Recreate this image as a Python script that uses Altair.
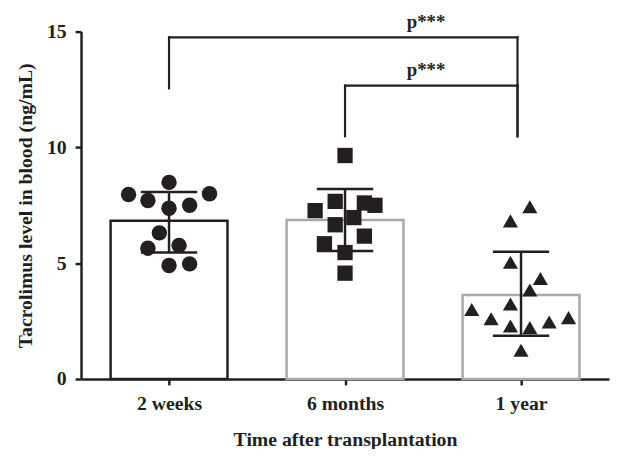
import altair as alt
import pandas as pd

# ---- data ----
groups = ["2 weeks", "6 months", "1 year"]
means = [6.83, 6.87, 3.63]
sd_hi = [8.07, 8.20, 5.49]
sd_lo = [5.46, 5.53, 1.87]

weeks2_vals = [8.49, 7.97, 8.00, 7.71, 7.37, 7.50, 6.31, 5.65, 5.77, 4.90, 4.97]
weeks2_jit = [0.0, -0.23, 0.23, -0.12, 0.0, 0.117, -0.055, -0.12, 0.057, 0.0, 0.117]
months6_vals = [9.65, 7.67, 7.27, 7.60, 7.50, 6.97, 6.66, 6.17, 5.84, 5.46, 4.57]
months6_jit = [0.0, -0.056, -0.17, 0.11, 0.17, 0.05, -0.056, 0.11, -0.117, 0.0, 0.0]
year1_vals = [7.44, 6.83, 5.04, 4.34, 3.84, 3.24, 3.00, 2.60, 2.29, 2.22, 2.46, 2.65, 1.24]
year1_jit = [0.05, -0.06, -0.06, 0.11, 0.05, -0.06, -0.28, -0.17, -0.06, 0.05, 0.16, 0.27, 0.0]

br_from = ["2 weeks", "6 months"]
br_to = ["1 year", "1 year"]
br_top = [14.75, 12.67]
br_left_bottom = [12.55, 10.48]
br_right_bottom = [10.48, 10.48]
br_label = ["p***", "p***"]

DARK = "#231f20"
GRAY = "#a7a9ac"
FONT = "Liberation Serif"
idx = {g: i for i, g in enumerate(groups)}

bars = pd.DataFrame({"group": groups, "gi": [idx[g] for g in groups],
                     "mean": means, "hi": sd_hi, "lo": sd_lo})

pts = []
for g, vals, jit in [("2 weeks", weeks2_vals, weeks2_jit),
                     ("6 months", months6_vals, months6_jit),
                     ("1 year", year1_vals, year1_jit)]:
    for v, j in zip(vals, jit):
        pts.append({"group": g, "value": v, "xp": idx[g] + j})
pts = pd.DataFrame(pts)

segs = []
texts = []
for f, t, top, lb, rb, lab in zip(br_from, br_to, br_top, br_left_bottom, br_right_bottom, br_label):
    a, b = idx[f], idx[t] - 0.02
    segs.append({"x": a, "x2": b, "y": top, "y2": top})
    segs.append({"x": a, "x2": a, "y": lb, "y2": top})
    segs.append({"x": b, "x2": b, "y": rb, "y2": top})
    texts.append({"x": (a + b) / 2 + 0.47 if a == 0 else (a + b) / 2 - 0.03, "y": top, "label": lab})
segs = pd.DataFrame(segs)
texts = pd.DataFrame(texts)

xscale = alt.Scale(domain=[-0.5, 2.5], nice=False, zero=False)
yscale = alt.Scale(domain=[0, 15], nice=False)

xaxis = alt.Axis(values=[0, 1, 2], labelExpr="['2 weeks','6 months','1 year'][datum.value]",
                 title="Time after transplantation", grid=False, labelPadding=9, titlePadding=16)
yaxis = alt.Axis(values=[0, 5, 10, 15], title="Tacrolimus level in blood (ng/mL)", grid=False,
                 labelPadding=9, titlePadding=11)

base = alt.Chart(bars)

bar_layer = base.transform_calculate(
    x0="datum.gi - 0.332", x1="datum.gi + 0.332"
).mark_bar(fill="white", strokeWidth=2.5).encode(
    x=alt.X("x0:Q", scale=xscale, axis=xaxis),
    x2="x1:Q",
    y=alt.Y("mean:Q", scale=yscale, axis=yaxis),
    y2=alt.datum(0),
    stroke=alt.condition("datum.group == '2 weeks'", alt.value(DARK), alt.value(GRAY)),
)

err_layer = base.mark_rule(color=DARK, strokeWidth=2.5).encode(
    x="gi:Q", y="lo:Q", y2="hi:Q")

cap_layer = base.transform_fold(["hi", "lo"], as_=["k", "v"]).transform_calculate(
    c0="datum.gi - 0.16", c1="datum.gi + 0.16"
).mark_rule(color=DARK, strokeWidth=2.5).encode(
    x="c0:Q", x2="c1:Q", y="v:Q")

pt_layer = alt.Chart(pts).mark_point(filled=True, opacity=1, color=DARK).encode(
    x="xp:Q", y="value:Q",
    shape=alt.Shape("group:N", scale=alt.Scale(domain=groups, range=["circle", "square", "triangle-up"]),
                    legend=None),
    size=alt.Size("group:N", scale=alt.Scale(domain=groups, range=[245, 235, 330]), legend=None),
)

br_layer = alt.Chart(segs).mark_rule(color=DARK, strokeWidth=2.2, strokeCap="square").encode(
    x="x:Q", x2="x2:Q", y="y:Q", y2="y2:Q")

txt_layer = alt.Chart(texts).mark_text(font=FONT, fontWeight="bold", fontSize=19, color=DARK,
                                       baseline="alphabetic", dy=-10).encode(
    x="x:Q", y="y:Q", text="label:N")

chart = alt.layer(bar_layer, err_layer, cap_layer, pt_layer, br_layer, txt_layer).properties(
    width=535, height=352, autosize="none",
    padding={"left": 74, "top": 21, "right": 2, "bottom": 68},
).configure_view(stroke=None).configure_axis(
    domainColor=DARK, domainWidth=2.5, tickColor=DARK, tickWidth=2.5, tickSize=6,
    labelFont=FONT, labelFontSize=20, labelFontWeight="bold", labelColor=DARK,
    titleFont=FONT, titleFontSize=20, titleFontWeight="bold", titleColor=DARK,
)

chart.save("out.html", embed_options={"renderer": "svg", "actions": False})
